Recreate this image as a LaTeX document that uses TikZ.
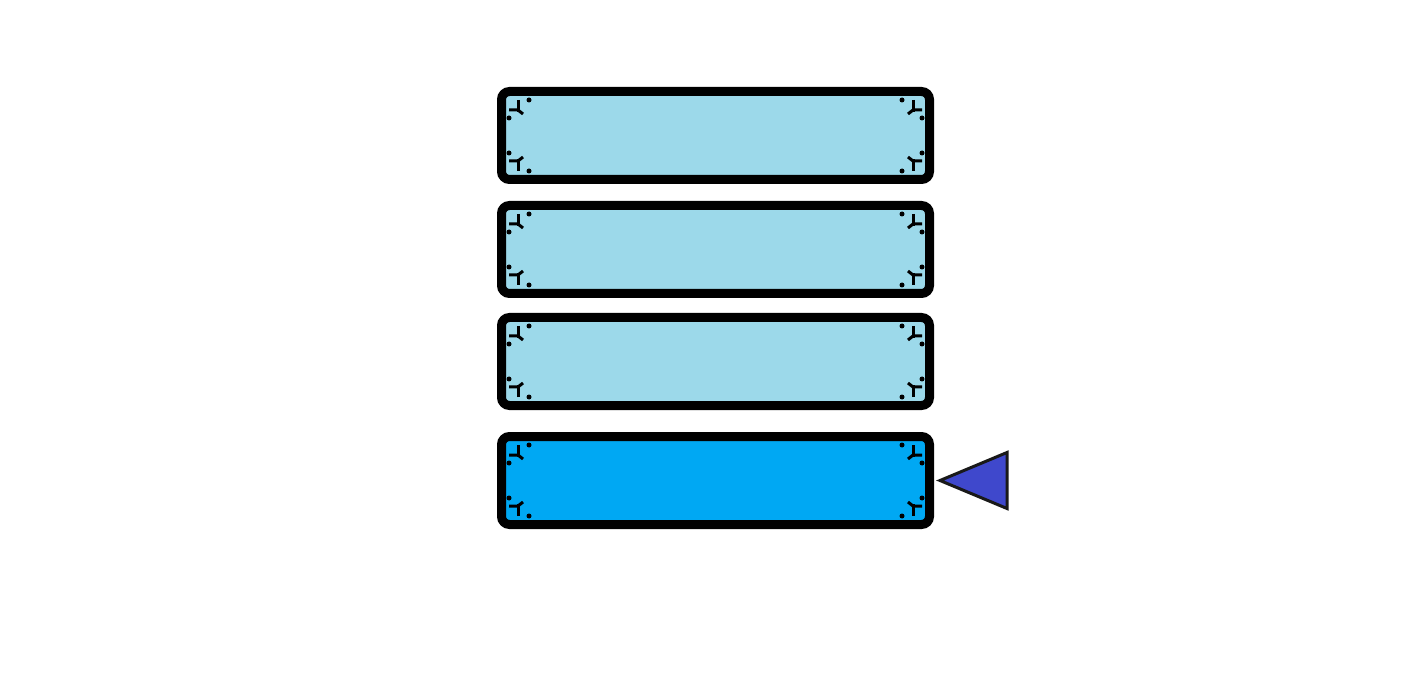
\documentclass[tikz,border=0pt]{standalone}
\usetikzlibrary{positioning}

\definecolor{panelblue}{HTML}{9CD9EA}
\definecolor{activeblue}{HTML}{00A8F3}
\definecolor{pointerblue}{HTML}{3F48CC}

\tikzset{
  panel/.style={draw=black, line width=9pt, rounded corners=8pt, fill=panelblue,
    minimum width=428pt, minimum height=88pt, inner sep=0pt},
  rivet/.pic={
    \draw[line width=3pt] (21,13) -- (21,25);
    \draw[line width=3pt] (12,23) -- (21,23) -- (26,27);
    \fill (32,13) circle (2.5pt);
    \fill (12,31) circle (2.5pt);
  },
  pointer/.style={fill=pointerblue, draw=black!90, line width=3pt, line join=miter}
}

\begin{document}
\begin{tikzpicture}[x=1pt,y=-1pt]
\useasboundingbox (0,0) rectangle (1416,700);

% the four slots, last one selected
\node[panel] (p1) at (715.5,135.5) {};
\node[panel, below=17pt of p1] (p2) {};
\node[panel, below=15pt of p2] (p3) {};
\node[panel, fill=activeblue, below=22pt of p3] (p4) {};

% corner rivets
\foreach \p in {p1,p2,p3,p4} {
  \pic at (\p.north west) {rivet};
  \pic[xscale=-1] at (\p.north east) {rivet};
  \pic[yscale=-1] at (\p.south west) {rivet};
  \pic[scale=-1] at (\p.south east) {rivet};
}

% selection pointer
\filldraw[pointer] ([xshift=6pt]p4.east) -- ++(67,-28) -- ++(0,56) -- cycle;
\end{tikzpicture}
\end{document}
